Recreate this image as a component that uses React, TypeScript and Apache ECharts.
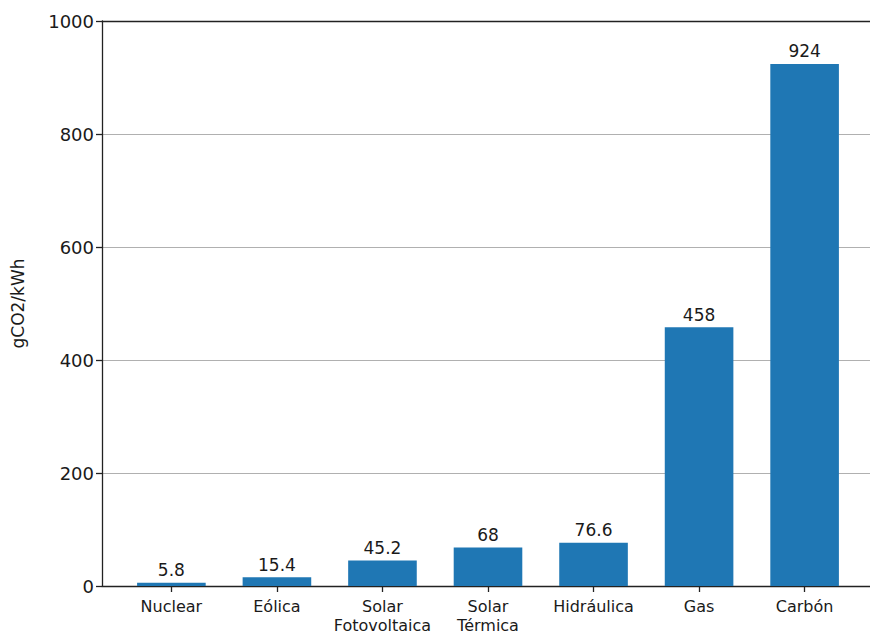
import React, { useEffect, useRef } from "react";
import * as echarts from "echarts";

const categories = ["Nuclear", "Eólica", "Solar\nFotovoltaica", "Solar\nTérmica", "Hidráulica", "Gas", "Carbón"];
const values = [5.8, 15.4, 45.2, 68, 76.6, 458, 924];
const valueLabels = ["5.8", "15.4", "45.2", "68", "76.6", "458", "924"];
const yTicks = [0, 200, 400, 600, 800, 1000];
const yName = "gCO2/kWh";

export default function App() {
  const ref = useRef<HTMLDivElement>(null);
  useEffect(() => {
    if (!ref.current) return;
    const chart = echarts.init(ref.current, null, { renderer: "svg" });
    const font = "DejaVu Sans";
    const positions = categories.map((_, i) => i);
    chart.setOption({
      animation: false,
      backgroundColor: "#ffffff",
      grid: { left: 102, right: -4, top: 21, bottom: 48, containLabel: false, outerBoundsMode: "none" },
      xAxis: [
        {
          type: "value",
          min: -0.6575,
          max: 6.6575,
          splitLine: { show: false },
          axisLine: { show: true, onZero: false, lineStyle: { color: "#222", width: 1.3 } },
          axisTick: { show: true, customValues: positions, length: 6, lineStyle: { color: "#222", width: 1.3 } },
          axisLabel: {
            customValues: positions,
            formatter: (v: number) => categories[Math.round(v)] ?? "",
            fontFamily: font,
            fontSize: 16,
            color: "#1a1a1a",
            margin: 11,
            lineHeight: 19,
          },
        },
        {
          type: "value",
          position: "top",
          min: -0.6575,
          max: 6.6575,
          splitLine: { show: false },
          axisLine: { show: true, onZero: false, lineStyle: { color: "#222", width: 1.3 } },
          axisTick: { show: false },
          axisLabel: { show: false },
        },
      ],
      yAxis: {
        type: "value",
        min: yTicks[0],
        max: yTicks[yTicks.length - 1],
        interval: 200,
        name: yName,
        nameLocation: "middle",
        nameGap: 76,
        nameRotate: 90,
        nameTextStyle: { fontFamily: font, fontSize: 17, color: "#1a1a1a" },
        axisLine: { show: true, onZero: false, lineStyle: { color: "#222", width: 1.3 } },
        axisTick: { show: true, length: 6, lineStyle: { color: "#222", width: 1.3 } },
        axisLabel: {
          fontFamily: font,
          fontSize: 18,
          color: "#1a1a1a",
          margin: 8,
          formatter: (v: number) => String(v),
        },
        splitLine: { show: true, lineStyle: { color: "#b0b0b0", width: 1.2 } },
      },
      series: [
        {
          type: "bar",
          xAxisIndex: 0,
          barWidth: 68.6,
          itemStyle: { color: "#1f77b4" },
          data: values.map((v, i) => [i, v]),
          label: {
            show: true,
            position: "top",
            distance: 4,
            formatter: (p: any) => valueLabels[p.dataIndex],
            fontFamily: font,
            fontSize: 17,
            color: "#1a1a1a",
          },
        },
      ],
    });
    return () => chart.dispose();
  }, []);
  return <div ref={ref} style={{ width: 870, height: 634, position: "absolute", left: 0, top: 0 }} />;
}
